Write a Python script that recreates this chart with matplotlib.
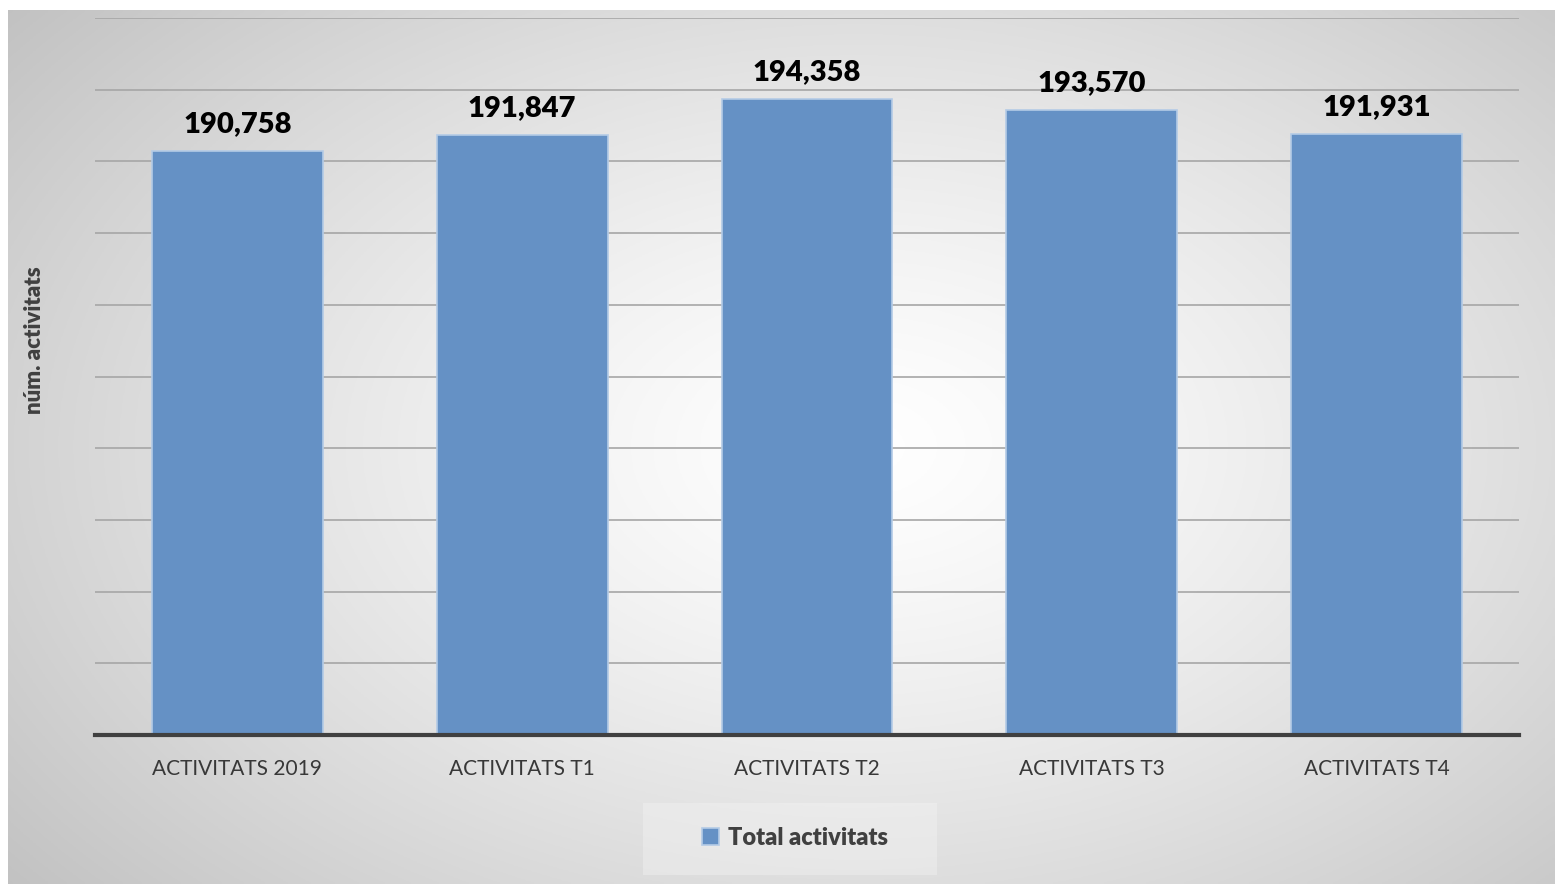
import numpy as np
import matplotlib.pyplot as plt
from matplotlib.patches import Rectangle

categories = ["ACTIVITATS 2019", "ACTIVITATS T1", "ACTIVITATS T2", "ACTIVITATS T3", "ACTIVITATS T4"]
values = [190758, 191847, 194358, 193570, 191931]
series_name = "Total activitats"

plt.rcParams['font.family'] = ['Lato', 'DejaVu Sans']

W, H = 1555, 884
fig = plt.figure(figsize=(W / 100, H / 100), dpi=100)

# radial gradient background panel
bg = fig.add_axes([8 / W, 0, 1 - 8 / W, 1 - 10 / H])
bg.set_axis_off()
yy, xx = np.mgrid[0:1:300j, 0:1:500j]
r = np.sqrt(((xx - 0.55) / 0.75) ** 2 + ((yy - 0.5) / 0.85) ** 2)
r = np.clip(r, 0, 1)
shade = 1.0 - 0.26 * r ** 1.3
bg.imshow(np.dstack([shade] * 3), extent=[0, 1, 0, 1], aspect='auto', origin='lower')
bg.set_xlim(0, 1)
bg.set_ylim(0, 1)
# faint box behind legend
bg.add_patch(Rectangle(((643 - 8) / (W - 8), (884 - 875) / (H - 10)), 294 / (W - 8), 72 / (H - 10),
                       facecolor='#f7f7f7', edgecolor='none', alpha=0.35))

ax = fig.add_axes([95 / W, 1 - 735 / H, (1519 - 95) / W, (735 - 18) / H])
ax.patch.set_alpha(0)
x = np.arange(len(categories))
bars = ax.bar(x, values, width=0.6, color='#6591c5', edgecolor='#b4cbe6', linewidth=1.2,
              label=series_name, zorder=3)
ax.set_xlim(-0.5, len(categories) - 0.5)
ax.set_ylim(150000, 200000)
ax.set_yticks(np.arange(150000, 200001, 5000))
ax.yaxis.grid(True, color='#a6a6a6', linewidth=1.2, zorder=0)
ax.tick_params(axis='y', left=False, labelleft=False)
ax.set_xticks(x)
ax.set_xticklabels(categories, fontsize=15, color='#383838')
ax.tick_params(axis='x', length=0, pad=17)
for s in ['top', 'right', 'left']:
    ax.spines[s].set_visible(False)
ax.spines['bottom'].set_color('#404040')
ax.spines['bottom'].set_linewidth(3)
ax.spines['bottom'].set_zorder(4)

for b, v in zip(bars, values):
    ax.annotate(f"{v:,}", (b.get_x() + b.get_width() / 2, v), xytext=(0, 10),
                textcoords='offset points', ha='center', va='bottom',
                fontsize=21, fontweight='heavy', color='black')

fig.text(35 / W, 1 - 340 / H, "núm. activitats", rotation=90, ha='center', va='center',
         fontsize=16, fontweight='heavy', color='#404040')

leg = ax.legend(loc='center', bbox_to_anchor=((795 - 95) / (1519 - 95), (735 - 838) / (735 - 18)),
                frameon=False, handlelength=0.7, handleheight=0.7, handletextpad=0.4,
                prop={'size': 17, 'weight': 'heavy'})
for t in leg.get_texts():
    t.set_color('#404040')

fig.savefig("out.png", dpi=100)
